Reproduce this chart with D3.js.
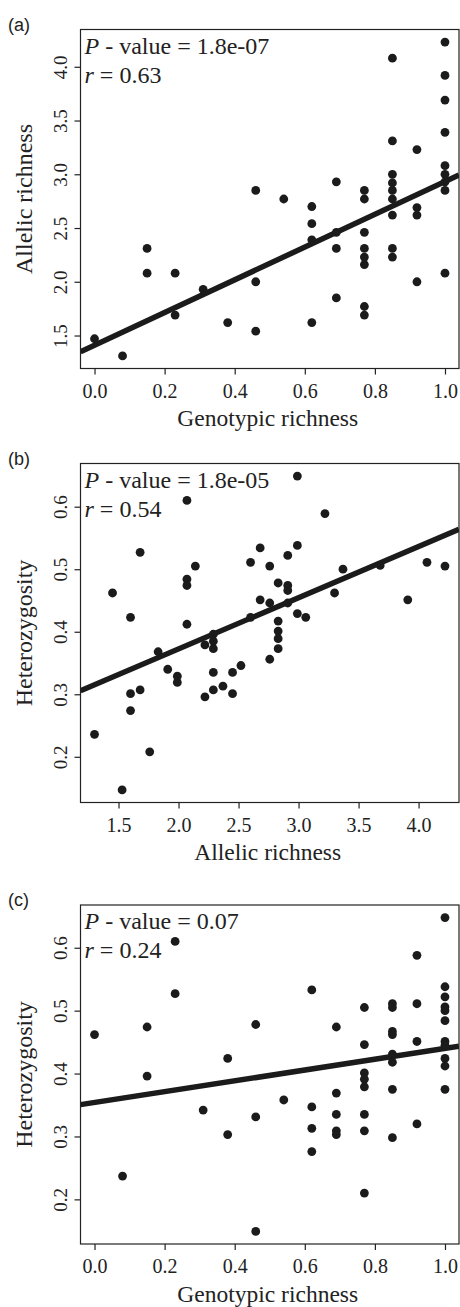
<!DOCTYPE html>
<html>
<head>
<meta charset="utf-8">
<script src="https://cdn.jsdelivr.net/npm/d3@7"></script>
<style>
  body { margin: 0; background: #fff; }
  svg { display: block; }
</style>
</head>
<body>
<script>
// panel (a): genotypic richness vs allelic richness
var aX = [0, 0.08, 0.15, 0.15, 0.23, 0.23, 0.31, 0.38, 0.46, 0.46, 0.46, 0.54,
  0.62, 0.62, 0.62, 0.62, 0.69, 0.69, 0.69, 0.69,
  0.77, 0.77, 0.77, 0.77, 0.77, 0.77, 0.77, 0.77,
  0.85, 0.85, 0.85, 0.85, 0.85, 0.85, 0.85, 0.85, 0.85,
  0.92, 0.92, 0.92, 0.92,
  1.0, 1.0, 1.0, 1.0, 1.0, 1.0, 1.0, 1.0, 1.0]
var aY = [1.47, 1.31, 2.31, 2.08, 2.08, 1.69, 1.93, 1.62, 2.85, 2.00, 1.54, 2.77,
  2.70, 2.54, 2.39, 1.62, 2.93, 2.46, 2.31, 1.85,
  2.85, 2.77, 2.46, 2.31, 2.23, 2.16, 1.77, 1.69,
  4.08, 3.31, 3.00, 2.92, 2.85, 2.77, 2.62, 2.31, 2.23,
  3.23, 2.69, 2.62, 2.00,
  4.23, 3.92, 3.69, 3.39, 3.08, 3.00, 2.93, 2.85, 2.08]

// panel (b): allelic richness vs heterozygosity
var bX = [1.30, 1.45, 1.53, 1.60, 1.60, 1.60, 1.68, 1.68, 1.76, 1.83, 1.91, 1.99, 1.99,
  2.07, 2.07, 2.07, 2.07, 2.14, 2.22, 2.22, 2.29, 2.29, 2.29, 2.29, 2.29, 2.37,
  2.45, 2.45, 2.52, 2.60, 2.60, 2.68, 2.68, 2.76, 2.76, 2.76,
  2.83, 2.83, 2.83, 2.83, 2.83, 2.91, 2.91, 2.91, 2.91, 2.99, 2.99, 2.99,
  3.06, 3.22, 3.30, 3.37, 3.68, 3.91, 4.07, 4.22]
var bY = [0.236, 0.462, 0.147, 0.423, 0.301, 0.274, 0.527, 0.307, 0.208, 0.368, 0.340, 0.329, 0.319,
  0.610, 0.484, 0.474, 0.412, 0.505, 0.379, 0.296, 0.396, 0.385, 0.373, 0.335, 0.307, 0.313,
  0.335, 0.301, 0.346, 0.511, 0.423, 0.534, 0.451, 0.505, 0.446, 0.356,
  0.478, 0.417, 0.401, 0.389, 0.373, 0.522, 0.474, 0.466, 0.446, 0.649, 0.538, 0.429,
  0.423, 0.589, 0.462, 0.500, 0.506, 0.451, 0.511, 0.505]

// panel (c): genotypic richness vs heterozygosity
var cX = [0, 0.08, 0.15, 0.15, 0.23, 0.23, 0.31, 0.38, 0.38, 0.46, 0.46, 0.46, 0.54,
  0.62, 0.62, 0.62, 0.62, 0.69, 0.69, 0.69, 0.69, 0.69,
  0.77, 0.77, 0.77, 0.77, 0.77, 0.77, 0.77, 0.77,
  0.85, 0.85, 0.85, 0.85, 0.85, 0.85, 0.85, 0.85,
  0.92, 0.92, 0.92, 0.92,
  1.0, 1.0, 1.0, 1.0, 1.0, 1.0, 1.0, 1.0, 1.0, 1.0, 1.0]
var cY = [0.462, 0.237, 0.474, 0.396, 0.610, 0.527, 0.342, 0.424, 0.303, 0.478, 0.331, 0.149, 0.358,
  0.533, 0.347, 0.313, 0.276, 0.474, 0.369, 0.335, 0.309, 0.303,
  0.505, 0.446, 0.401, 0.391, 0.379, 0.335, 0.309, 0.210,
  0.511, 0.505, 0.467, 0.462, 0.431, 0.418, 0.375, 0.298,
  0.588, 0.511, 0.451, 0.320,
  0.648, 0.538, 0.522, 0.506, 0.500, 0.484, 0.451, 0.445, 0.424, 0.412, 0.375]

// fitted lines: [intercept, slope]
var aFit = [1.409, 1.523]
var bFit = [0.209, 0.0818]
var cFit = [0.354, 0.086]

var genoTicks = [0, 0.2, 0.4, 0.6, 0.8, 1.0]
var allelicTicks = [1.5, 2.0, 2.5, 3.0, 3.5, 4.0]
var hetTicks = [0.2, 0.3, 0.4, 0.5, 0.6]

var panelLabels = ["(a)", "(b)", "(c)"]
var pValues = ["1.8e-07", "1.8e-05", "0.07"]
var rValues = ["0.63", "0.54", "0.24"]

var W = 460, H = 1307
var left = 80.5, pw = 378.5, ph = 339
var tops = [29.5, 463.5, 905]
var ink = "#1b1b1b"
var serif = "'Liberation Serif', 'Times New Roman', serif"
var fmt = d3.format(".1f")

var svg = d3.select("body").append("svg")
  .attr("width", W)
  .attr("height", H)

var panels = [
  { xs: aX, ys: aY, fit: aFit, xt: genoTicks, yt: allelicTicks, xl: "Genotypic richness", yl: "Allelic richness" },
  { xs: bX, ys: bY, fit: bFit, xt: allelicTicks, yt: hetTicks, xl: "Allelic richness", yl: "Heterozygosity" },
  { xs: cX, ys: cY, fit: cFit, xt: genoTicks, yt: hetTicks, xl: "Genotypic richness", yl: "Heterozygosity" }
]

// R style: pad data range by 4% on each side
function padded(v) {
  var e = d3.extent(v), d = (e[1] - e[0]) * 0.04
  return [e[0] - d, e[1] + d]
}

panels.forEach(function (p, i) {
  var top = tops[i]
  var x = d3.scaleLinear().domain(padded(p.xs)).range([left, left + pw])
  var y = d3.scaleLinear().domain(padded(p.ys)).range([top + ph, top])
  var g = svg.append("g")

  g.append("clipPath").attr("id", "clip" + i)
    .append("rect").attr("x", left).attr("y", top).attr("width", pw).attr("height", ph)

  // regression line
  var xd = x.domain()
  g.append("line")
    .attr("clip-path", "url(#clip" + i + ")")
    .attr("x1", x(xd[0])).attr("y1", y(p.fit[0] + p.fit[1] * xd[0]))
    .attr("x2", x(xd[1])).attr("y2", y(p.fit[0] + p.fit[1] * xd[1]))
    .attr("stroke", ink)
    .attr("stroke-width", 5.5)

  // points
  g.selectAll("circle")
    .data(p.xs)
    .enter()
    .append("circle")
    .attr("cx", function (d) { return x(d) })
    .attr("cy", function (d, j) { return y(p.ys[j]) })
    .attr("r", 4.4)
    .attr("fill", ink)

  // box
  g.append("rect")
    .attr("x", left).attr("y", top).attr("width", pw).attr("height", ph)
    .attr("fill", "none").attr("stroke", "#222").attr("stroke-width", 1.2)

  // x axis
  var xa = g.append("g")
    .attr("transform", "translate(0," + (top + ph) + ")")
    .call(d3.axisBottom(x).tickValues(p.xt).tickFormat(fmt).tickSize(6).tickSizeOuter(0))
  xa.select(".domain").remove()
  xa.selectAll("line").attr("stroke", "#222").attr("stroke-width", 1.2)
  xa.selectAll("text")
    .attr("y", 29).attr("dy", 0)
    .attr("font-family", serif).attr("font-size", 20).attr("fill", "#222")

  // y axis, rotated labels
  var ya = g.append("g")
    .attr("transform", "translate(" + left + ",0)")
    .call(d3.axisLeft(y).tickValues(p.yt).tickFormat(fmt).tickSize(6).tickSizeOuter(0))
  ya.select(".domain").remove()
  ya.selectAll("line").attr("stroke", "#222").attr("stroke-width", 1.2)
  ya.selectAll("text")
    .attr("transform", "rotate(-90)")
    .attr("x", 0).attr("y", -14).attr("dy", 0)
    .attr("text-anchor", "middle")
    .attr("font-family", serif).attr("font-size", 19).attr("fill", "#222")

  // axis titles
  g.append("text")
    .attr("x", left + pw / 2 - 2).attr("y", top + ph + 57.5)
    .attr("text-anchor", "middle")
    .attr("font-family", serif).attr("font-size", 23.5).attr("fill", "#222")
    .text(p.xl)
  g.append("text")
    .attr("transform", "translate(32," + (top + ph / 2) + ") rotate(-90)")
    .attr("text-anchor", "middle")
    .attr("font-family", serif).attr("font-size", 24).attr("fill", "#222")
    .text(p.yl)

  // panel letter
  g.append("text")
    .attr("x", 8).attr("y", top + 1)
    .attr("font-family", "'Liberation Sans', Arial, sans-serif").attr("font-size", 18).attr("fill", "#222")
    .text(panelLabels[i])

  // stats
  var t1 = g.append("text")
    .attr("x", left + 4).attr("y", top + 24)
    .attr("font-family", serif).attr("font-size", 24).attr("fill", "#222")
  t1.append("tspan").attr("font-style", "italic").text("P")
  t1.append("tspan").text(" - value = " + pValues[i])
  var t2 = g.append("text")
    .attr("x", left + 4).attr("y", top + 53)
    .attr("font-family", serif).attr("font-size", 24).attr("fill", "#222")
  t2.append("tspan").attr("font-style", "italic").text("r")
  t2.append("tspan").text(" = " + rValues[i])
})
</script>
</body>
</html>
